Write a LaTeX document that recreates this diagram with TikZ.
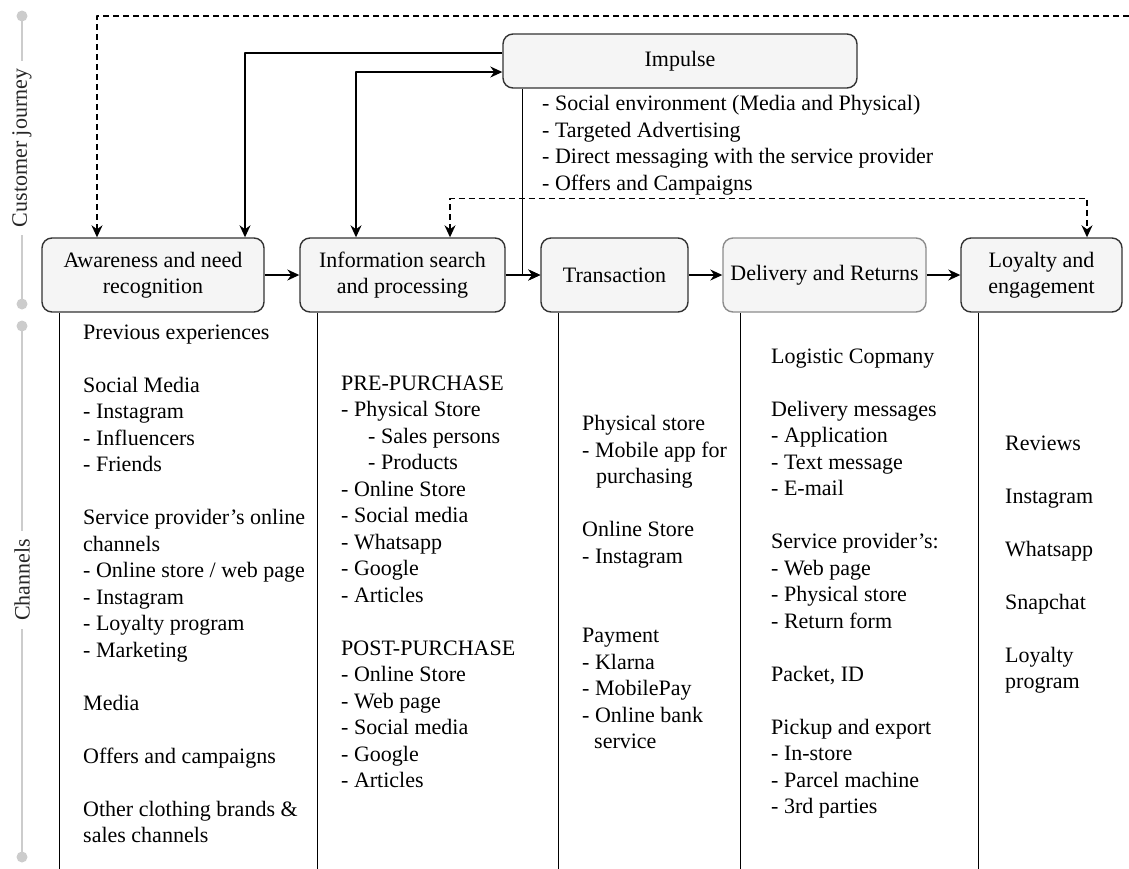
\documentclass[tikz,border=0pt]{standalone}
\usepackage{fontspec}
\setmainfont{Liberation Serif}
\usetikzlibrary{arrows.meta}
\definecolor{boxfill}{HTML}{F5F5F5}
\definecolor{boxline}{HTML}{333333}
\definecolor{softline}{HTML}{8C8C8C}
\definecolor{railgray}{HTML}{CCCCCC}
\newcommand{\colfont}{\fontsize{22}{26.5}\selectfont}
\tikzset{>={Stealth[length=12pt,width=11pt]},
every picture/.append style={
    line join=round
  },
stage/.style={draw=boxline, fill=boxfill, rounded corners=10pt, line width=1.4pt,
    align=center, font=\colfont, inner sep=0pt, minimum height=74pt},
chan/.style={anchor=north west, align=left, inner sep=0pt, font=\colfont,
    execute at begin node=\strut},
flow/.style={line width=1.4pt, ->},
hint/.style={line width=1.4pt, dash pattern=on 6pt off 4pt},
rail/.style={draw=railgray, line width=2pt},
raillabel/.style={rotate=90, fill=white, font=\colfont, text=black!85,
    inner xsep=8pt, inner ysep=2pt}
}

\begin{document}
\begin{tikzpicture}[x=1pt,y=-1pt]
        \useasboundingbox (0,0) rectangle (1129,868);
        % side rail
        \draw [rail] (22,16) -- (22,304);
        \draw [rail] (22,326) -- (22,857);
        \foreach \y in {16,304,326,857}
            \fill [railgray] (22,\y) circle (5.5pt);
        \node [raillabel] (journeylbl) at (22,148) {Customer journey};
        \node [raillabel] (chanlbl) at (22,580) {Channels};
        % stages
        \node [stage, minimum width=222pt] (aware) at (153,275) {Awareness and need\\recognition};
        \node [stage, minimum width=205pt] (info) at (402.5,275) {Information search\\and processing};
        \node [stage, minimum width=147pt] (trans) at (614.5,275) {Transaction};
        \node [stage, draw=softline, minimum width=203pt] (deliv) at (824.5,275) {Delivery and Returns};
        \node [stage, minimum width=161pt] (loyal) at (1041.5,275) {Loyalty and\\engagement};
        \node [stage, minimum width=354pt, minimum height=54pt] (imp) at (680,61) {Impulse};
        \node [chan] (implist) at (542,95.5) {- Social environment (Media and Physical)\\- Targeted Advertising\\- Direct messaging with the service provider\\- Offers and Campaigns};
        % channel columns
        \foreach \s in {aware,info,trans,deliv,loyal}
            \draw [line width=1.4pt] ([xshift=18pt]\s.south west) -- ++(0,556);
        \node [chan] (awarelist) at (83,324.5) {Previous experiences\\[26.5pt]
            Social Media\\- Instagram\\- Influencers\\- Friends\\[26.5pt]
            Service provider's online\\channels\\- Online store / web page\\- Instagram\\- Loyalty program\\- Marketing\\[26.5pt]
            Media\\[26.5pt]
            Offers and campaigns\\[26.5pt]
            Other clothing brands \&\\sales channels};
        \node [chan] (infolist) at (341,375.5) {PRE-PURCHASE\\- Physical Store\\\hspace*{27pt}- Sales persons\\\hspace*{27pt}- Products\\- Online Store\\- Social media\\- Whatsapp\\- Google\\- Articles\\[26.5pt]
            POST-PURCHASE\\- Online Store\\- Web page\\- Social media\\- Google\\- Articles};
        \node [chan] (translist) at (582,415.5) {Physical store\\- Mobile app for\\\hspace*{14pt}purchasing\\[26.5pt]
            Online Store\\- Instagram\\[53pt]
            Payment\\- Klarna\\- MobilePay\\- Online bank\\\hspace*{12pt}service};
        \node [chan] (delivlist) at (771,348.5) {Logistic Copmany\\[26.5pt]
            Delivery messages\\- Application\\- Text message\\- E-mail\\[26.5pt]
            Service provider's:\\- Web page\\- Physical store\\- Return form\\[26.5pt]
            Packet, ID\\[26.5pt]
            Pickup and export\\- In-store\\- Parcel machine\\- 3rd parties};
        \node [chan] (loyallist) at (1005,435.5) {Reviews\\[26.5pt]Instagram\\[26.5pt]Whatsapp\\[26.5pt]Snapchat\\[26.5pt]Loyalty\\program};
        % flow between stages
        \draw [flow] (aware) -- (info);
        \draw [flow] (info) -- (trans);
        \draw [flow] (trans) -- (deliv);
        \draw [flow] (deliv) -- (loyal);
        % impulse links
        \draw [flow] ([yshift=8pt]imp.west) -| ([xshift=92pt]aware.north);
        \draw [flow,<->] ([xshift=-46.5pt]info.north) |- ([yshift=-11pt]imp.west);
        \draw [flow] ([xshift=20pt]imp.south west) |- (trans.west);
        % dashed feedback
        \draw [hint,<->] ([xshift=47.5pt]info.north) -- ++(0,-39) -| ([xshift=45.5pt]loyal.north);
        \coordinate (rim) at (1129,16);
        \draw [hint,->] (rim) -| ([xshift=-56pt]aware.north);
    \end{tikzpicture}
\end{document}
